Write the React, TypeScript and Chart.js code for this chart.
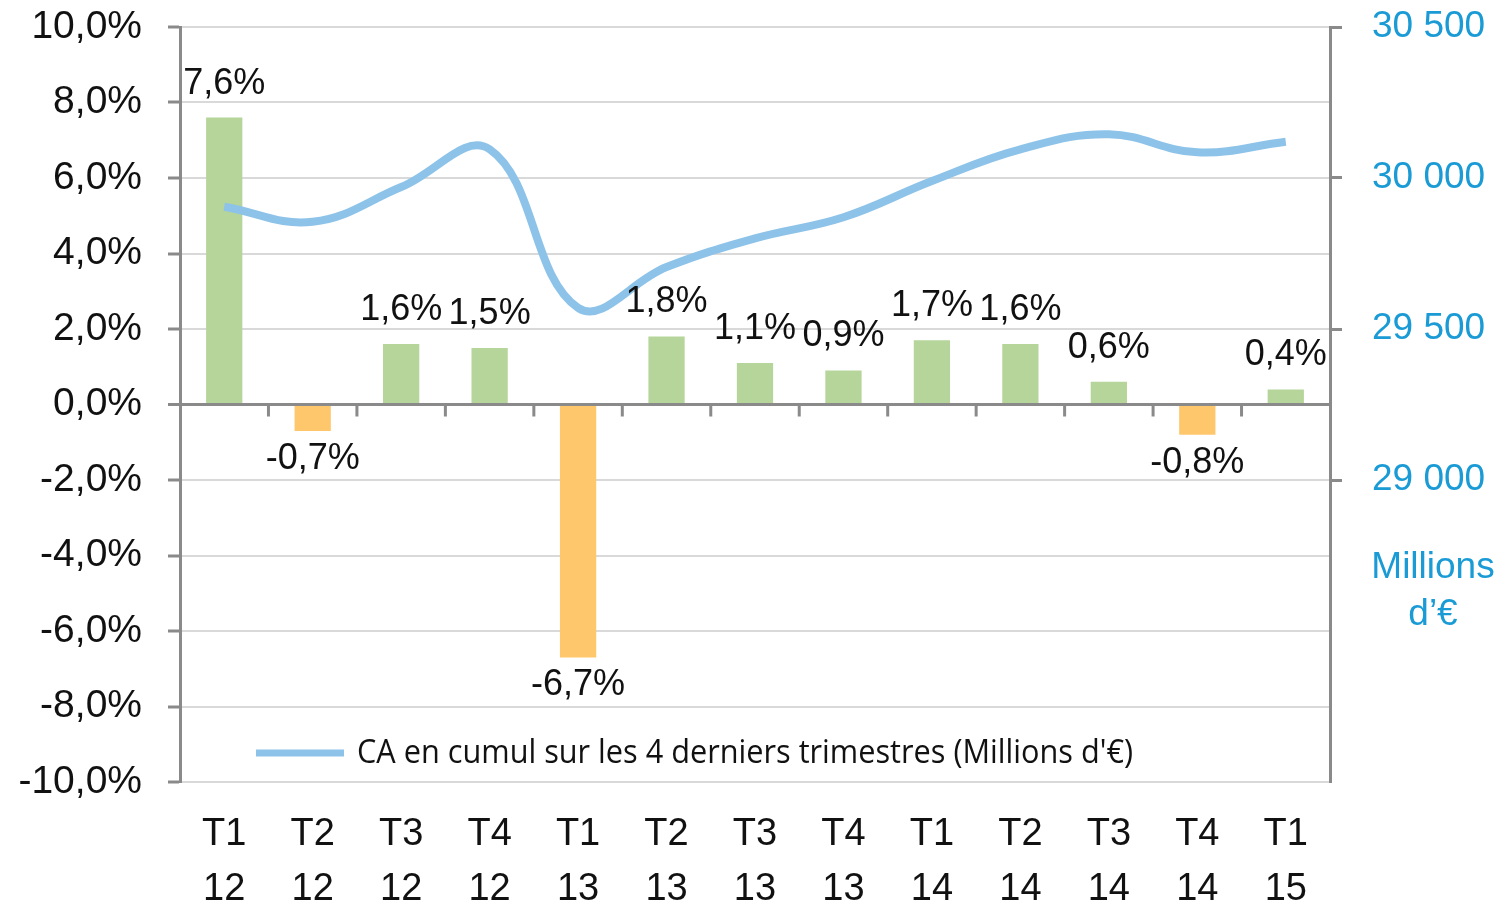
import React, { useEffect, useRef } from "react";
import { Chart, registerables } from "chart.js";

Chart.register(...registerables);

const quarters: string[][] = [
  ["T1", "12"], ["T2", "12"], ["T3", "12"], ["T4", "12"],
  ["T1", "13"], ["T2", "13"], ["T3", "13"], ["T4", "13"],
  ["T1", "14"], ["T2", "14"], ["T3", "14"], ["T4", "14"],
  ["T1", "15"],
];
const growthPct: number[] = [7.6, -0.7, 1.6, 1.5, -6.7, 1.8, 1.1, 0.9, 1.7, 1.6, 0.6, -0.8, 0.4];
const cumulCA: number[] = [29905, 29855, 29970, 30095, 29570, 29705, 29800, 29870, 29990, 30095, 30145, 30085, 30120];
const legendLabel = "CA en cumul sur les 4 derniers trimestres (Millions d'€)";
const rightAxisUnit: string[] = ["Millions", "d’€"];

const GREEN = "#B5D59A";
const ORANGE = "#FFC76B";
const LINE = "#8DC3E9";
const BLUE_TEXT = "#1A9BD5";
const AXIS = "#8A8A8A";
const GRID = "#D9D9D9";
const FONT = '"Liberation Sans", Arial, sans-serif';

const fmtPct = (v: number) => v.toFixed(1).replace(".", ",") + "%";
const fmtThousands = (v: number) => {
  const s = Math.round(v).toString();
  return s.replace(/\B(?=(\d{3})+(?!\d))/g, " ");
};

const overlayPlugin = {
  id: "overlay",
  afterDatasetsDraw(chart: any) {
    const { ctx, scales } = chart;
    const x = scales.x;
    const y = scales.y;
    const y0 = y.getPixelForValue(0);
    ctx.save();
    // category boundary ticks on zero line
    ctx.strokeStyle = AXIS;
    ctx.lineWidth = 3;
    for (let i = 0; i < quarters.length - 1; i++) {
      const px = (x.getPixelForValue(i) + x.getPixelForValue(i + 1)) / 2;
      ctx.beginPath();
      ctx.moveTo(px, y0);
      ctx.lineTo(px, y0 + 12);
      ctx.stroke();
    }
    // data labels
    ctx.fillStyle = "#111";
    ctx.font = "36px " + FONT;
    ctx.textAlign = "center";
    ctx.textBaseline = "middle";
    const meta = chart.getDatasetMeta(0);
    growthPct.forEach((v, i) => {
      const el = meta.data[i];
      const py = y.getPixelForValue(v);
      const cy = v >= 0 ? py - 34 : py + 28;
      ctx.fillText(fmtPct(v), el.x, cy);
    });
    // legend
    const ly = 753;
    ctx.strokeStyle = LINE;
    ctx.lineWidth = 7;
    ctx.beginPath();
    ctx.moveTo(256, ly);
    ctx.lineTo(344, ly);
    ctx.stroke();
    ctx.fillStyle = "#111";
    ctx.textAlign = "left";
    ctx.font = '33px "Liberation Sans Narrow", "Open Sans", Arial, sans-serif';
    ctx.fillText(legendLabel, 357, ly + 1, 776);
    // right axis unit
    ctx.fillStyle = BLUE_TEXT;
    ctx.textAlign = "center";
    ctx.font = "37px " + FONT;
    ctx.fillText(rightAxisUnit[0], 1433, 568);
    ctx.fillText(rightAxisUnit[1], 1433, 615);
    ctx.restore();
  },
};

export default function App() {
  const ref = useRef<HTMLCanvasElement | null>(null);
  useEffect(() => {
    if (!ref.current) return;
    const chart = new Chart(ref.current, {
      type: "bar",
      data: {
        labels: quarters,
        datasets: [
          {
            type: "bar",
            label: "Variation",
            data: growthPct,
            backgroundColor: growthPct.map((v) => (v >= 0 ? GREEN : ORANGE)),
            barPercentage: 0.41,
            categoryPercentage: 1,
            yAxisID: "y",
            order: 1,
          },
          {
            type: "line",
            label: legendLabel,
            data: cumulCA,
            borderColor: LINE,
            borderWidth: 8,
            pointRadius: 0,
            tension: 0.4,
            yAxisID: "y2",
            order: 0,
          } as any,
        ],
      },
      options: {
        animation: false,
        responsive: true,
        maintainAspectRatio: false,
        layout: { padding: { top: 27, left: 2, right: 0, bottom: 0 } },
        plugins: { legend: { display: false }, tooltip: { enabled: false } },
        scales: {
          x: {
            type: "category",
            offset: true,
            grid: { display: false, drawTicks: false },
            border: { display: false },
            ticks: {
              color: "#111",
              font: { family: FONT, size: 38, lineHeight: 1.45 },
              padding: 25,
              maxRotation: 0,
              autoSkip: false,
            },
            afterFit: (s: any) => { s.height = 124; s.paddingLeft = 0; s.paddingRight = 0; },
          },
          y: {
            position: "left",
            min: -10,
            max: 10,
            ticks: {
              stepSize: 2,
              color: "#111",
              font: { family: FONT, size: 39 },
              padding: 26,
              callback: (v: any) => fmtPct(Number(v)),
            },
            grid: {
              color: (c: any) => (c.tick && c.tick.value === 0 ? AXIS : GRID),
              lineWidth: (c: any) => (c.tick && c.tick.value === 0 ? 3 : 2),
              tickColor: AXIS,
              tickLength: 12,
              tickWidth: 3,
            },
            border: { display: true, color: AXIS, width: 3 },
            afterFit: (s: any) => { s.width = 178; s.paddingTop = 0; s.paddingBottom = 0; },
          },
          y2: {
            position: "right",
            min: 28000,
            max: 30500,
            ticks: {
              stepSize: 500,
              color: BLUE_TEXT,
              font: { family: FONT, size: 37 },
              padding: 30,
              callback: (v: any) => (Number(v) < 29000 ? "" : fmtThousands(Number(v))),
            },
            grid: {
              drawOnChartArea: false,
              tickLength: 12,
              tickWidth: 3,
              tickColor: (c: any) => (c.tick && c.tick.value < 29000 ? "rgba(0,0,0,0)" : AXIS),
            },
            border: { display: true, color: AXIS, width: 3 },
            afterFit: (s: any) => { s.width = 178; s.paddingTop = 0; s.paddingBottom = 0; },
          },
        },
      },
      plugins: [overlayPlugin],
    });
    return () => chart.destroy();
  }, []);
  return (
    <div style={{ position: "fixed", left: 0, top: 0, width: 1508, height: 906, background: "#fff" }}>
      <canvas ref={ref} />
    </div>
  );
}
